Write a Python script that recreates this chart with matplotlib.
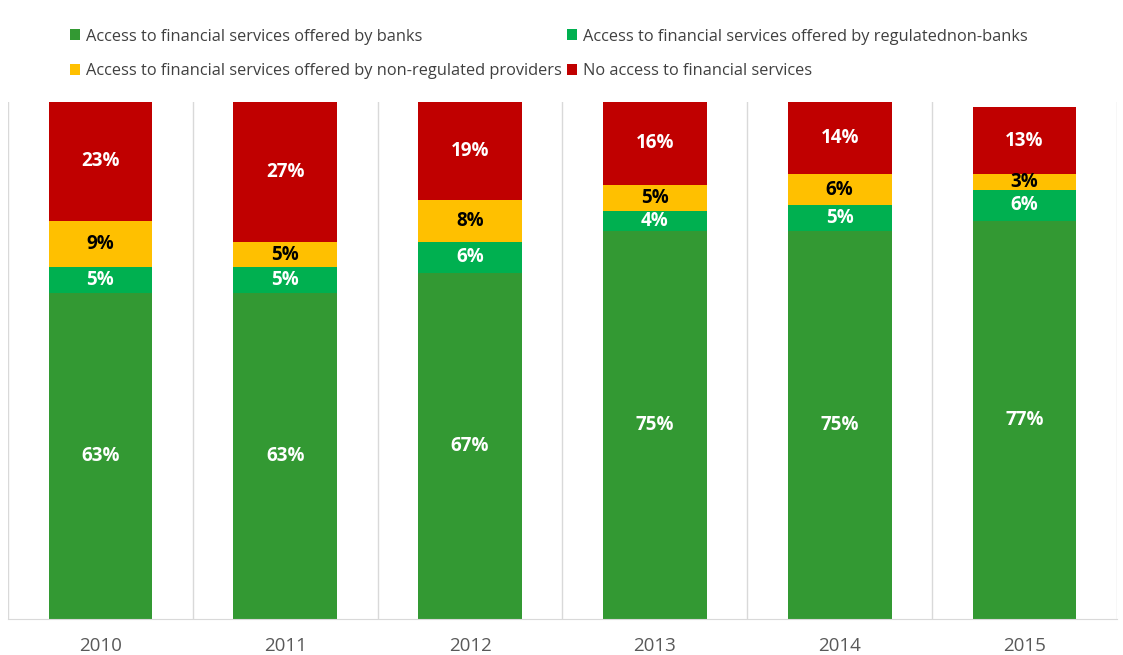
import numpy as np
import matplotlib
matplotlib.use("Agg")
import matplotlib.pyplot as plt

plt.rcParams['font.family'] = ['Open Sans', 'DejaVu Sans']

years = ['2010', '2011', '2012', '2013', '2014', '2015']
banks = [63, 63, 67, 75, 75, 77]
regulated_non_banks = [5, 5, 6, 4, 5, 6]
non_regulated = [9, 5, 8, 5, 6, 3]
no_access = [23, 27, 19, 16, 14, 13]

series = [
    ('Access to financial services offered by banks', banks, '#339933', 'white'),
    ('Access to financial services offered by regulatednon-banks', regulated_non_banks, '#00B050', 'white'),
    ('Access to financial services offered by non-regulated providers', non_regulated, '#FFC000', 'black'),
    ('No access to financial services', no_access, '#C00000', 'white'),
]

fig = plt.figure(figsize=(11.23, 6.55), dpi=100)
ax = fig.add_axes([8 / 1123, 36 / 655, 1109 / 1123, 517 / 655])

x = np.arange(len(years))
bottom = np.zeros(len(years))
handles = []
for name, vals, color, txt in series:
    bars = ax.bar(x, vals, 0.56, bottom=bottom, color=color, label=name, zorder=2)
    ax.bar_label(bars, labels=[f'{v}%' for v in vals], label_type='center',
                 color=txt, fontsize=13.5, fontweight='bold')
    bottom += np.array(vals)
    handles.append(bars)

ax.set_xlim(-0.5, len(years) - 0.5)
ax.set_ylim(0, 100)
ax.set_xticks(x)
ax.set_xticklabels(years, fontsize=13.5, color='#595959')
ax.set_xticks(np.arange(len(years) + 1) - 0.5, minor=True)
ax.tick_params(axis='x', which='both', length=0, pad=13)
ax.set_yticks([])
ax.grid(axis='x', which='minor', color='#D9D9D9', linewidth=1, zorder=0)
for s in ['top', 'left', 'right']:
    ax.spines[s].set_visible(False)
ax.spines['bottom'].set_color('#D9D9D9')

# legend fills column by column, so reorder to get the row layout
order = [0, 2, 1, 3]
fig.legend(handles=[handles[i] for i in order], loc='upper left',
           bbox_to_anchor=(63 / 1123, 1 - 22 / 655),
           ncol=2, frameon=False, fontsize=11.8, labelcolor='#404040',
           handlelength=0.65, handleheight=0.65, handletextpad=0.35,
           columnspacing=0.3, labelspacing=1.15, borderaxespad=0)

fig.savefig('out.png', dpi=100)
